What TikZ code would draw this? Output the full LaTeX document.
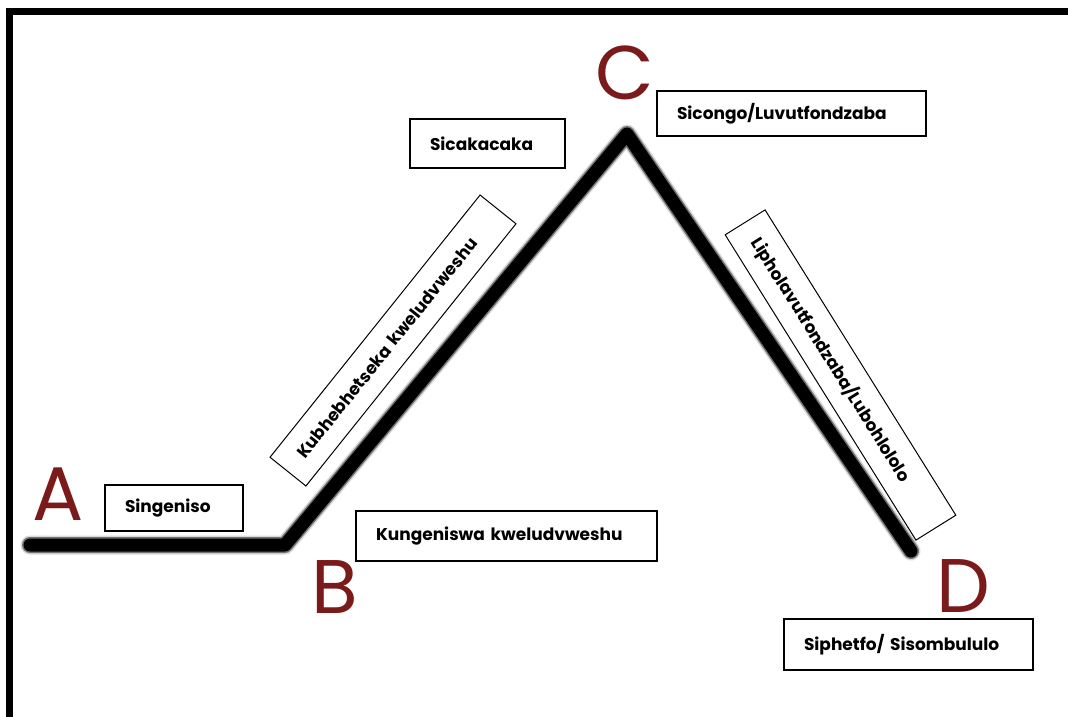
\documentclass[tikz,border=0pt]{standalone}
\usepackage{fontspec}
\newfontfamily\labelfont{Poppins}
\definecolor{letterred}{HTML}{7A1A1A}
\tikzset{
  lbox/.style={draw=black, line width=1.3pt, font=\labelfont\bfseries\fontsize{17}{20}\selectfont,
    inner xsep=20pt, inner ysep=0pt, align=left, anchor=center},
  rbox/.style={lbox, line width=1pt},
  letter/.style={font=\labelfont\fontsize{76}{80}\selectfont, text=letterred, inner sep=0pt, anchor=center},
}
\begin{document}
\begin{tikzpicture}[x=1pt,y=-1pt]
\useasboundingbox (0,0) rectangle (1068,716);
\fill[white] (0,0) rectangle (1068,716);
% frame
\draw[line width=7pt, black] (9,730) -- (9,11.5) -- (1080,11.5);
% path coordinates
\coordinate (pA) at (30,545);
\coordinate (pB) at (285,545);
\coordinate (pC) at (627,134);
\coordinate (pD) at (911,551);
\draw[line width=19pt, black!15, line join=round, line cap=round] (pA) -- (pB) -- (pC) -- (pD);
\draw[line width=16pt, black!55, line join=round, line cap=round] (pA) -- (pB) -- (pC) -- (pD);
\draw[line width=13pt, black, line join=round, line cap=round] (pA) -- (pB) -- (pC) -- (pD);
% letters
\node[letter] (A) at (58,494) {A};
\node[letter] (B) at (335,587) {B};
\node[letter] (C) at (625,73) {C};
\node[letter] (D) at (963,586) {D};
% labels
\node[lbox, text width=98pt, minimum height=46pt] (singeniso) at (174,508) {\mbox{Singeniso}};
\node[lbox, text width=261pt, minimum height=50pt] (kungeniswa) at (506.5,536) {\mbox{Kungeniswa kweludvweshu}};
\node[lbox, text width=229pt, minimum height=45pt] (sicongo) at (791.5,113.5) {\mbox{Sicongo/Luvutfondzaba}};
\node[lbox, text width=115pt, minimum height=49pt] (sicaka) at (487.5,143.5) {\mbox{Sicakacaka}};
\node[lbox, text width=209pt, minimum height=51pt] (siphetfo) at (908.5,644.5) {\mbox{Siphetfo/ Sisombululo}};
\node[rbox, text width=296pt, minimum height=46pt, rotate=51.3] (kubhe) at (393,340.5) {\mbox{Kubhebhetseka kweludvweshu}};
\node[rbox, text width=320pt, minimum height=47pt, rotate=-58] (lipho) at (840.5,375) {\mbox{Lipholavutfondzaba/Lubohlololo}};
\end{tikzpicture}
\end{document}
